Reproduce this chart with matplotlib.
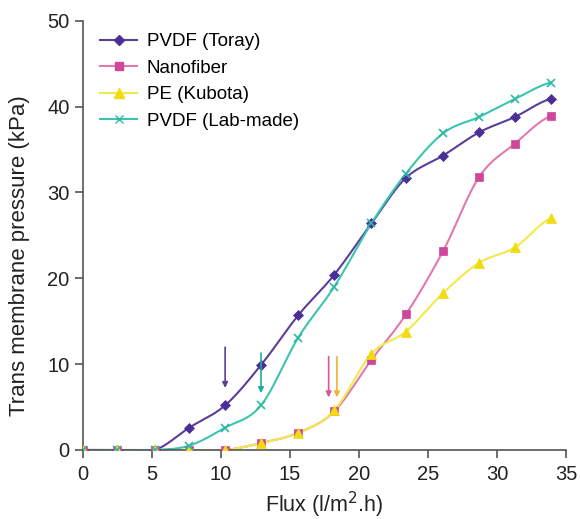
import matplotlib.pyplot as plt
import numpy as np

plt.rcParams['font.family'] = ['Liberation Sans', 'DejaVu Sans']

flux = [0, 2.5, 5.2, 7.7, 10.3, 12.9, 15.6, 18.2, 20.9, 23.4, 26.1, 28.7, 31.3, 33.9]
toray = [0, 0, 0, 2.6, 5.2, 9.9, 15.7, 20.4, 26.4, 31.7, 34.3, 37.0, 38.8, 40.9]
nanofiber = [0, 0, 0, 0, 0, 0.8, 2.0, 4.5, 10.5, 15.8, 23.2, 31.8, 35.7, 38.9]
pe_kubota = [0, 0, 0, 0, 0, 0.8, 2.0, 4.6, 11.2, 13.8, 18.3, 21.8, 23.6, 27.0]
lab_made = [0, 0, 0, 0.5, 2.6, 5.2, 13.1, 19.0, 26.4, 32.2, 36.9, 38.8, 40.9, 42.8]

# arrows marking the critical flux of each membrane
arrow_x = [10.3, 12.9, 17.8, 18.4]
arrow_top = [12.3, 11.6, 11.2, 11.2]
arrow_bottom = [6.9, 6.3, 5.8, 5.8]
arrow_colors = ["#5a3e9a", "#1fae98", "#d9559c", "#f2b330"]


def smooth(x, y, n=12):
    # catmull-rom curve through the points, only for drawing
    x = np.asarray(x, float)
    y = np.asarray(y, float)
    px = np.concatenate([[2 * x[0] - x[1]], x, [2 * x[-1] - x[-2]]])
    py = np.concatenate([[y[0]], y, [y[-1]]])
    xs, ys = [], []
    t = np.linspace(0, 1, n, endpoint=False)
    for i in range(1, len(px) - 2):
        for p, out in ((px, xs), (py, ys)):
            p0, p1, p2, p3 = p[i - 1], p[i], p[i + 1], p[i + 2]
            out.extend(0.5 * (2 * p1 + (-p0 + p2) * t + (2 * p0 - 5 * p1 + 4 * p2 - p3) * t ** 2
                              + (-p0 + 3 * p1 - 3 * p2 + p3) * t ** 3))
    xs.append(x[-1])
    ys.append(y[-1])
    return xs, ys


series = [
    (toray, "PVDF (Toray)", "#5a3e9a", "#4b2f96", "D", 5),
    (nanofiber, "Nanofiber", "#e07aae", "#d0469a", "s", 5.5),
    (pe_kubota, "PE (Kubota)", "#f2e94a", "#f0dc10", "^", 6.5),
    (lab_made, "PVDF (Lab-made)", "#3cc4b0", "#2fb8a2", "x", 5.5),
]

fig = plt.figure(figsize=(5.8, 5.19), dpi=100, facecolor="white")
ax = fig.add_axes([0.143, 0.133, 0.833, 0.827])

for vals, label, lc, mc, mk, ms in series:
    sx, sy = smooth(flux, vals)
    ax.plot(sx, sy, color=lc, linewidth=1.5, zorder=2)
    ax.plot(flux, vals, linestyle="none", marker=mk, markersize=ms, color=mc,
            markeredgecolor=mc, markeredgewidth=1.2 if mk == "x" else 0.5, zorder=3)
    ax.plot([], [], color=lc, linewidth=1.5, marker=mk, markersize=ms,
            markerfacecolor=mc, markeredgecolor=mc, label=label)

for xa, yt, yb, c in zip(arrow_x, arrow_top, arrow_bottom, arrow_colors):
    ax.annotate("", xy=(xa, yb), xytext=(xa, yt),
                arrowprops=dict(arrowstyle="-|>", color=c, lw=1.2, mutation_scale=8))

ax.set_xlim(0, 35)
ax.set_ylim(0, 50)
ax.set_xticks(range(0, 36, 5))
ax.set_yticks(range(0, 51, 10))
ax.spines["top"].set_visible(False)
ax.spines["right"].set_visible(False)
for s in ("left", "bottom"):
    ax.spines[s].set_color("#555555")
    ax.spines[s].set_linewidth(1.2)
ax.tick_params(direction="out", length=6, width=1.2, colors="#555555", labelcolor="#222222",
               labelsize=14.5)
ax.tick_params(axis="x", pad=5)
ax.set_xlabel("Flux (l/m$^2$.h)", fontsize=15.5, color="#222222", labelpad=4)
ax.set_ylabel("Trans membrane pressure (kPa)", fontsize=16, color="#222222")
ax.yaxis.set_label_coords(-0.11, 0.452)
ax.legend(loc="upper left", frameon=False, fontsize=13.5, handlelength=2.0, handletextpad=0.5,
          bbox_to_anchor=(0.0, 1.01), labelspacing=0.5)

plt.savefig("out.png", dpi=100)
